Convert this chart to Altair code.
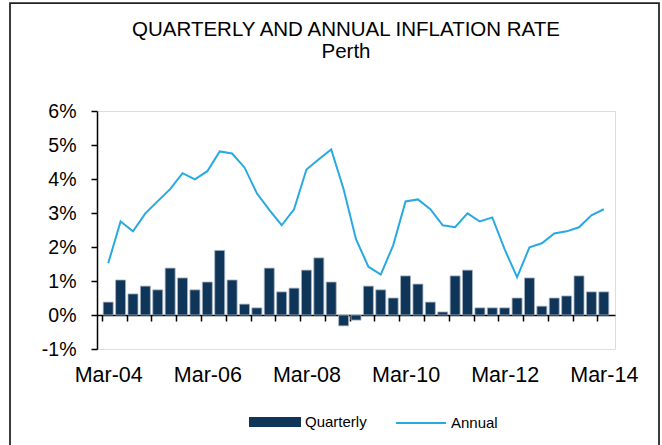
import altair as alt
import pandas as pd

# ---- data ----
months = ["Mar", "Jun", "Sep", "Dec"]
quarters = [f"{months[k % 4]}-{(4 + k // 4):02d}" for k in range(41)]

quarterly = [0.38, 1.03, 0.62, 0.85, 0.74, 1.38, 1.09, 0.74, 0.97, 1.90,
             1.03, 0.32, 0.21, 1.38, 0.68, 0.79, 1.32, 1.68, 0.97, -0.32,
             -0.15, 0.85, 0.74, 0.50, 1.15, 0.91, 0.38, 0.09, 1.15, 1.32,
             0.21, 0.21, 0.21, 0.50, 1.09, 0.26, 0.50, 0.56, 1.15, 0.68, 0.68]

annual = [1.52, 2.75, 2.46, 2.99, 3.35, 3.70, 4.17, 3.99, 4.23, 4.81,
          4.75, 4.34, 3.58, 3.09, 2.64, 3.11, 4.28, 4.58, 4.87, 3.70,
          2.23, 1.42, 1.19, 2.05, 3.34, 3.40, 3.11, 2.64, 2.58, 2.99,
          2.75, 2.87, 1.93, 1.11, 1.99, 2.11, 2.40, 2.46, 2.58, 2.93, 3.11]

x_tick_labels = ["Mar-04", "Mar-06", "Mar-08", "Mar-10", "Mar-12", "Mar-14"]
y_ticks = [-1, 0, 1, 2, 3, 4, 5, 6]

df = pd.DataFrame({
    "i": list(range(len(quarters))),
    "quarter": quarters,
    "Quarterly": quarterly,
    "Annual": annual,
    "s1": ["Quarterly"] * len(quarters),
    "s2": ["Annual"] * len(quarters),
})

W, H = 518, 238
NAVY = "#0f3558"
BLUE = "#29a9e1"
FONT = "Liberation Sans"
half = W / 41 / 2
unit = H / 7

label_arr = "[" + ",".join(f"'{s}'" for s in x_tick_labels) + "]"

x_axis = alt.Axis(
    values=list(range(0, 41, 2)),
    tickOffset=-half,
    labelOffset=half,
    labelExpr=f"datum.value % 8 == 0 ? {label_arr}[datum.value / 8] : ''",
    labelOverlap=False,
    offset=-unit,
    tickSize=6,
    tickWidth=1.5,
    tickColor="black",
    domainColor="black",
    domainWidth=1.5,
    labelPadding=43,
    labelFontSize=21.5,
    labelColor="black",
    labelFont=FONT,
    grid=False,
    title=None,
)
x_scale = alt.Scale(domain=[-0.5, 40.5], nice=False, zero=False)

y_axis = alt.Axis(
    values=y_ticks,
    labelExpr="datum.value + '%'",
    labelOverlap=False,
    tickSize=6,
    tickWidth=1.5,
    tickColor="black",
    domainColor="black",
    domainWidth=1.5,
    labelPadding=15,
    labelFontSize=19.5,
    labelColor="black",
    labelFont=FONT,
    grid=False,
    title=None,
)
y_scale = alt.Scale(domain=[-1, 6], nice=False, zero=False)

bars = alt.Chart(df).mark_bar(size=10, stroke="#a9b6c4", strokeWidth=0.8).encode(
    x=alt.X("i:Q", scale=x_scale, axis=x_axis),
    y=alt.Y("Quarterly:Q", scale=y_scale, axis=y_axis),
    color=alt.Color(
        "s1:N",
        scale=alt.Scale(domain=["Quarterly"], range=[NAVY]),
        legend=alt.Legend(
            title=None,
            orient="none",
            legendX=152,
            legendY=285,
            padding=0,
            symbolType="M-1,-0.19H1V0.19H-1Z",
            symbolSize=2704,
            symbolStrokeWidth=0,
            labelFontSize=15,
            labelFont=FONT,
            labelColor="black",
            labelOffset=4,
        ),
    ),
)

line = alt.Chart(df).mark_line(strokeWidth=2).encode(
    x=alt.X("i:Q", scale=x_scale, axis=x_axis),
    y=alt.Y("Annual:Q", scale=y_scale, axis=y_axis),
    color=alt.Color(
        "s2:N",
        scale=alt.Scale(domain=["Annual"], range=[BLUE]),
        legend=alt.Legend(
            title=None,
            orient="none",
            legendX=298,
            legendY=286,
            padding=0,
            symbolType="stroke",
            symbolSize=2500,
            symbolStrokeWidth=2,
            labelFontSize=15,
            labelFont=FONT,
            labelColor="black",
            labelOffset=4,
        ),
    ),
)

frame = alt.Chart(pd.DataFrame({"d": [0]})).mark_rect(
    filled=False, stroke="#222222", strokeWidth=1.75
).encode(
    x=alt.value(-87), x2=alt.value(562), y=alt.value(-108), y2=alt.value(360)
)

chart = (
    alt.layer(frame, bars, line)
    .resolve_scale(color="independent")
    .properties(
        width=W,
        height=H,
        autosize=alt.AutoSizeParams(type="none"),
        padding={"left": 97, "top": 111, "right": 662 - 97 - W, "bottom": 445 - 111 - H},
        title=alt.TitleParams(
            text=["QUARTERLY AND ANNUAL INFLATION RATE", "Perth"],
            fontSize=20.5,
            fontWeight="normal",
            font=FONT,
            color="black",
            anchor="middle",
            dx=-10,
            offset=-60,
            lineHeight=22,
        ),
    )
    .configure_view(stroke="transparent")
    .configure(font=FONT)
)

chart.save("out.html", embed_options={"renderer": "svg", "actions": False})
